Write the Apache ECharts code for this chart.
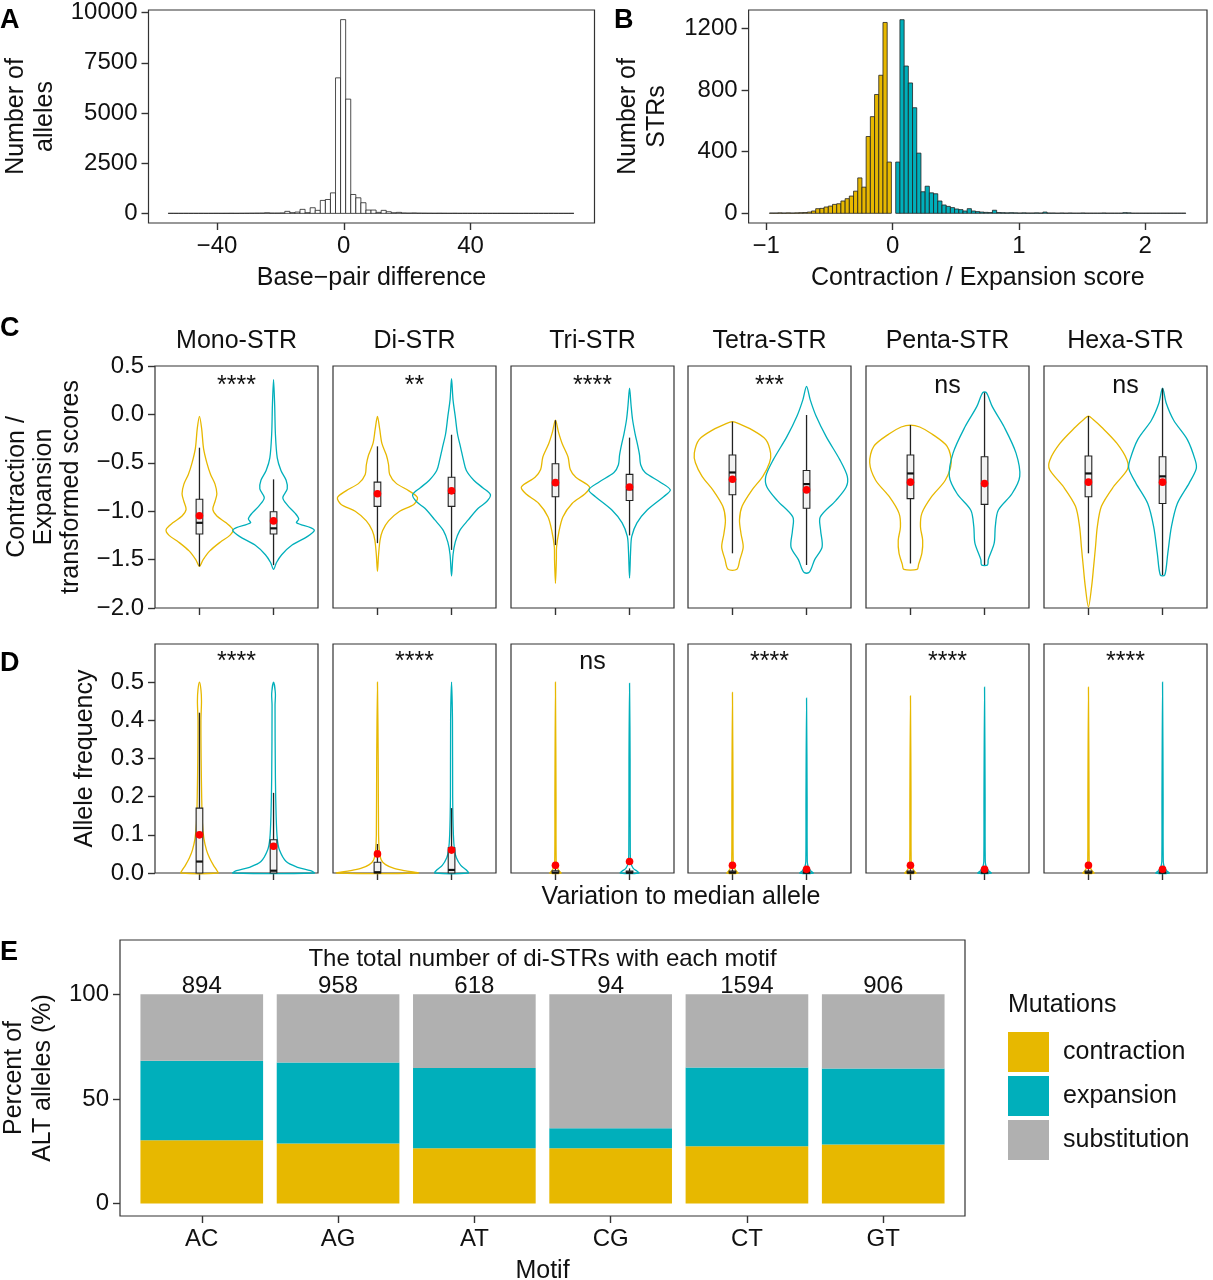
<!DOCTYPE html>
<html><head><meta charset="utf-8">
<script src="https://cdn.jsdelivr.net/npm/echarts@6/dist/echarts.min.js"></script>
<style>html,body{margin:0;padding:0;background:#fff}#c{width:1213px;height:1280px}</style>
</head><body><div id="c"></div>
<script>
// ================= DATA =================
// Panel A : histogram of base-pair differences
const aBinStart = -55.4;
const aBinWidth = 1.6;
const aCounts = [3,2,2,3,2,2,3,2,3,4,3,4,5,4,6,8,10,12,15,
  30,15,15,20,100,33,65,200,33,280,150,645,690,1020,6750,9650,5690,940,775,530,165,165,50,150,80,30,50,20,15,
  20,12,10,8,6,8,5,4,5,3,4,3,3,2,3,2,2,3,2,2,2,1,2,1,2,1,1,2,1,1,1,2];
const aXTicks = [-40, 0, 40];
const aYTicks = [0, 2500, 5000, 7500, 10000];

// Panel B : histogram of contraction / expansion score
const bBinWidth = 0.0333;
const bContractionStart = -0.975;
const bContractionCounts = [2,2,3,2,3,2,3,4,5,8,15,30,32,41,47,58,62,80,95,112,144,230,170,499,628,772,897,1240,333];
const bExpansionStart = 0.025;
const bExpansionCounts = [333,1258,957,847,686,391,140,176,133,127,80,54,45,37,28,24,15,30,15,11,8,
  6,5,20,5,4,3,4,3,2,3,2,2,3,2,8,2,2,1,2,1,2,1,1,2,1,1,1,1,2,1,1,1,1,4,3,1,1,1,1,1,1,1,1,1,1,1,1,1];
const bXTicks = [-1, 0, 1, 2];
const bYTicks = [0, 400, 800, 1200];

// Panels C & D : facets
const strTypes = ['Mono-STR','Di-STR','Tri-STR','Tetra-STR','Penta-STR','Hexa-STR'];
const sigC = ['****','**','****','***','ns','ns'];
const sigD = ['****','****','ns','****','****','****'];
const cYTicks = [-2.0, -1.5, -1.0, -0.5, 0.0, 0.5];
const dYTicks = [0.0, 0.1, 0.2, 0.3, 0.4, 0.5];

// violin outlines: [value, relative half-width]
const vioC_contraction = [
  [[-0.02,0],[-0.15,0.06],[-0.35,0.11],[-0.5,0.2],[-0.62,0.3],[-0.72,0.42],[-0.82,0.47],[-0.9,0.42],[-0.98,0.36],[-1.05,0.47],[-1.12,0.72],[-1.19,0.9],[-1.25,0.82],[-1.32,0.56],[-1.41,0.28],[-1.5,0.1],[-1.57,0]],
  [[-0.02,0],[-0.15,0.06],[-0.3,0.12],[-0.42,0.24],[-0.52,0.3],[-0.62,0.33],[-0.71,0.5],[-0.79,0.85],[-0.86,1.08],[-0.93,0.98],[-1.0,0.6],[-1.1,0.3],[-1.2,0.14],[-1.3,0.07],[-1.45,0.03],[-1.62,0]],
  [[-0.06,0],[-0.18,0.08],[-0.3,0.18],[-0.44,0.34],[-0.57,0.4],[-0.65,0.55],[-0.75,0.92],[-0.82,0.8],[-0.92,0.45],[-1.06,0.2],[-1.22,0.09],[-1.37,0.03],[-1.5,0.025],[-1.745,0]],
  [[-0.075,0],[-0.1,0.2],[-0.16,0.53],[-0.26,0.9],[-0.4,1.03],[-0.5,1.0],[-0.64,0.82],[-0.78,0.53],[-0.95,0.26],[-1.09,0.19],[-1.23,0.23],[-1.37,0.29],[-1.5,0.2],[-1.6,0.12]],
  [[-0.11,0],[-0.13,0.25],[-0.2,0.57],[-0.33,0.99],[-0.5,1.1],[-0.68,0.94],[-0.85,0.57],[-1.02,0.31],[-1.16,0.27],[-1.3,0.33],[-1.43,0.31],[-1.55,0.22],[-1.6,0.18]],
  [[-0.017,0],[-0.05,0.12],[-0.13,0.35],[-0.3,0.77],[-0.47,1.04],[-0.57,1.05],[-0.75,0.67],[-0.95,0.35],[-1.16,0.24],[-1.37,0.19],[-1.57,0.14],[-1.78,0.085],[-1.99,0]]
];
const vioC_expansion = [
  [[0.36,0],[0.1,0.03],[-0.2,0.05],[-0.45,0.1],[-0.58,0.2],[-0.68,0.34],[-0.77,0.37],[-0.86,0.25],[-0.94,0.38],[-1.02,0.58],[-1.08,0.68],[-1.12,0.62],[-1.17,1.0],[-1.2,1.1],[-1.26,0.92],[-1.35,0.5],[-1.45,0.22],[-1.53,0.08],[-1.6,0]],
  [[0.37,0],[0.15,0.04],[-0.02,0.1],[-0.2,0.16],[-0.35,0.25],[-0.47,0.32],[-0.58,0.4],[-0.68,0.6],[-0.76,0.85],[-0.83,1.05],[-0.9,0.95],[-0.97,0.72],[-1.09,0.45],[-1.2,0.22],[-1.32,0.1],[-1.45,0.04],[-1.67,0]],
  [[0.27,0],[0.1,0.04],[-0.05,0.08],[-0.2,0.15],[-0.32,0.22],[-0.42,0.27],[-0.52,0.3],[-0.6,0.42],[-0.7,0.83],[-0.78,1.1],[-0.85,0.92],[-0.99,0.47],[-1.12,0.2],[-1.26,0.06],[-1.4,0.03],[-1.69,0]],
  [[0.29,0],[0.15,0.1],[-0.02,0.26],[-0.23,0.53],[-0.47,0.9],[-0.64,1.1],[-0.75,1.07],[-0.89,0.79],[-1.06,0.37],[-1.2,0.38],[-1.37,0.42],[-1.5,0.22],[-1.6,0.12],[-1.635,0.06]],
  [[0.225,0.05],[0.08,0.21],[-0.13,0.53],[-0.4,0.85],[-0.64,0.95],[-0.82,0.74],[-0.99,0.37],[-1.16,0.29],[-1.33,0.26],[-1.5,0.1],[-1.556,0.08]],
  [[0.27,0],[0.115,0.1],[-0.06,0.3],[-0.26,0.67],[-0.47,0.88],[-0.56,0.91],[-0.71,0.72],[-0.92,0.4],[-1.16,0.24],[-1.44,0.14],[-1.66,0.06]]
];
// box stats: [lower whisker, Q1, median, Q3, upper whisker]
const boxC_contraction = [[-1.57,-1.236,-1.12,-0.877,-0.344],[-1.33,-0.95,-0.83,-0.70,-0.33],[-1.35,-0.85,-0.72,-0.51,-0.06],[-1.435,-0.83,-0.60,-0.42,-0.075],[-1.54,-0.87,-0.61,-0.42,-0.11],[-1.435,-0.85,-0.61,-0.43,-0.017]];
const boxC_expansion = [[-1.557,-1.236,-1.177,-1.005,-0.671],[-1.40,-0.95,-0.81,-0.65,-0.21],[-1.25,-0.89,-0.774,-0.62,-0.24],[-1.556,-0.97,-0.72,-0.58,-0.006],[-1.556,-0.93,-0.71,-0.437,0.225],[-1.66,-0.92,-0.64,-0.437,0.27]];
const meanC_contraction = [-1.047,-0.82,-0.705,-0.67,-0.70,-0.70];
const meanC_expansion = [-1.10,-0.79,-0.75,-0.78,-0.715,-0.70];

const vioD_contraction = [
  [[0.5,0],[0.48,0.04],[0.45,0.055],[0.4,0.04],[0.3,0.045],[0.2,0.06],[0.13,0.08],[0.09,0.12],[0.06,0.19],[0.04,0.27],[0.02,0.38],[0.008,0.46],[0,0.5]],
  [[0.5,0],[0.3,0.02],[0.1,0.03],[0.06,0.05],[0.035,0.1],[0.022,0.22],[0.012,0.45],[0.005,0.8],[0,1.1]],
  [[0.5,0],[0.2,0.015],[0.03,0.02],[0.015,0.05],[0.005,0.1],[0,0.15]],
  [[0.473,0],[0.2,0.015],[0.03,0.02],[0.015,0.05],[0.005,0.1],[0,0.15]],
  [[0.464,0],[0.2,0.015],[0.03,0.02],[0.015,0.05],[0.005,0.1],[0,0.15]],
  [[0.487,0],[0.2,0.015],[0.03,0.02],[0.015,0.05],[0.005,0.1],[0,0.15]]
];
const vioD_expansion = [
  [[0.5,0],[0.47,0.05],[0.44,0.04],[0.25,0.05],[0.15,0.07],[0.09,0.1],[0.06,0.16],[0.03,0.34],[0.015,0.65],[0.006,1.0],[0,1.1]],
  [[0.5,0],[0.4,0.025],[0.2,0.03],[0.1,0.05],[0.06,0.08],[0.04,0.13],[0.02,0.25],[0.008,0.4],[0,0.45]],
  [[0.497,0],[0.3,0.015],[0.05,0.02],[0.025,0.04],[0.012,0.1],[0.005,0.2],[0,0.25]],
  [[0.458,0],[0.2,0.015],[0.03,0.02],[0.015,0.05],[0.005,0.12],[0,0.18]],
  [[0.487,0],[0.2,0.015],[0.03,0.02],[0.015,0.05],[0.005,0.12],[0,0.18]],
  [[0.5,0],[0.2,0.015],[0.03,0.02],[0.015,0.05],[0.005,0.12],[0,0.18]]
];
const boxD_contraction = [[0,0,0.03,0.17,0.42],[0,0,0.002,0.028,0.076],[0,0,0.001,0.006,0.012],[0,0,0.001,0.005,0.01],[0,0,0.001,0.005,0.01],[0,0,0.001,0.005,0.01]];
const boxD_expansion = [[0,0,0.006,0.087,0.21],[0,0,0.008,0.066,0.17],[0,0,0.001,0.005,0.012],[0,0,0.001,0.004,0.01],[0,0,0.001,0.004,0.01],[0,0,0.001,0.004,0.01]];
const meanD_contraction = [0.10,0.05,0.02,0.02,0.02,0.02];
const meanD_expansion = [0.07,0.06,0.03,0.01,0.01,0.01];

// Panel E : stacked percentages per motif
const motifs = ['AC','AG','AT','CG','CT','GT'];
const motifTotals = [894, 958, 618, 94, 1594, 906];
const pctContraction = [30.2, 28.7, 26.4, 26.4, 27.4, 28.2];
const pctExpansion = [38.1, 38.7, 38.4, 9.6, 37.6, 36.3];
const pctSubstitution = [31.7, 32.6, 35.2, 64.0, 35.0, 35.5];
const eYTicks = [0, 50, 100];
const mutationNames = ['contraction','expansion','substitution'];

// ================= STYLE / LAYOUT =================
const FONT = '"Liberation Sans", Arial, Helvetica, sans-serif';
const INK = '#111111', BORDER = '#333333';
const GOLD = '#E7B800', TEAL = '#00AFBB', GREY = '#B0B0B0';
const TICK = 24, TITLE = 25;
const panelLeft = [155, 333, 511, 688, 866, 1044];
const panelW = 163;
const VW = 0.5;   // category units for relative width 1
const BW = 0.045; // half box width

const minus = s => s.replace('-', '\u2212');
const fmtInt = v => minus(String(Math.round(v)));
const fmt1 = v => minus(v.toFixed(1));

function grid(left, top, width, height) {
  return {left, top, width, height, show:true, borderColor:BORDER, borderWidth:1.2,
    backgroundColor:'transparent', containLabel:false, outerBoundsMode:'none'};
}
function axis(gi, min, max, ticks, fmt, extra) {
  const o = {
    type:'value', gridIndex:gi, min, max,
    splitLine:{show:false},
    axisLine:{show:false, onZero:false},
    axisTick:{show:ticks.length>0, length:7, lineStyle:{color:BORDER, width:1.4}, customValues:ticks},
    axisLabel:{show:!!fmt, customValues:ticks, formatter:fmt, color:INK, fontSize:TICK, fontFamily:FONT, margin:11},
    axisPointer:{show:false}
  };
  return Object.assign(o, extra || {});
}
const nameStyle = {fontSize:TITLE, color:INK, fontFamily:FONT, lineHeight:29};

const grids = [], xAxes = [], yAxes = [], series = [];

// ---- A ----
grids.push(grid(148.5, 10, 446, 213));
xAxes.push(axis(0, -61.6, 79.1, aXTicks, fmtInt, {name:'Base\u2212pair difference', nameLocation:'middle', nameGap:41, nameTextStyle:nameStyle}));
yAxes.push(axis(0, -480, 10130, aYTicks, fmtInt, {name:'Number of\nalleles', nameLocation:'middle', nameGap:89, nameTextStyle:nameStyle}));
function histRender(fill) {
  return (params, api) => {
    const p0 = api.coord([api.value(0), api.value(2)]);
    const p1 = api.coord([api.value(1), 0]);
    return {type:'rect', shape:{x:p0[0], y:p0[1], width:p1[0]-p0[0], height:p1[1]-p0[1]},
      style:{fill, stroke:'#222', lineWidth:0.8}};
  };
}
series.push({type:'custom', xAxisIndex:0, yAxisIndex:0, silent:true, encode:{x:[0,1], y:2},
  data: aCounts.map((c,i) => [aBinStart + i*aBinWidth, aBinStart + (i+1)*aBinWidth, c]),
  renderItem: histRender('#ffffff')});

// ---- B ----
grids.push(grid(748.6, 10, 458.4, 213));
xAxes.push(axis(1, -1.14, 2.49, bXTicks, fmtInt, {name:'Contraction / Expansion score', nameLocation:'middle', nameGap:41, nameTextStyle:nameStyle}));
yAxes.push(axis(1, -63, 1321, bYTicks, fmtInt, {name:'Number of\nSTRs', nameLocation:'middle', nameGap:77, nameTextStyle:nameStyle}));
series.push({type:'custom', xAxisIndex:1, yAxisIndex:1, silent:true, encode:{x:[0,1], y:2},
  data: bContractionCounts.map((c,i) => [bContractionStart + i*bBinWidth, bContractionStart + (i+1)*bBinWidth, c]),
  renderItem: histRender(GOLD)});
series.push({type:'custom', xAxisIndex:1, yAxisIndex:1, silent:true, encode:{x:[0,1], y:2},
  data: bExpansionCounts.map((c,i) => [bExpansionStart + i*bBinWidth, bExpansionStart + (i+1)*bBinWidth, c]),
  renderItem: histRender(TEAL)});

// ---- C & D violins ----
function violinSeries(gi, profiles, boxes, means) {
  return {
    type:'custom', xAxisIndex:gi, yAxisIndex:gi, silent:true, clip:false,
    data:[[1, boxes[0][2]], [2, boxes[1][2]]],
    renderItem:(params, api) => {
      const i = params.dataIndex, x = api.value(0);
      const color = i === 0 ? GOLD : TEAL;
      const prof = profiles[i];
      const pts = [];
      prof.forEach(([v,w]) => pts.push(api.coord([x + w*VW, v])));
      for (let j = prof.length-1; j >= 0; j--) {
        const [v,w] = prof[j];
        if (w > 0) pts.push(api.coord([x - w*VW, v]));
      }
      const [lo,q1,md,q3,hi] = boxes[i];
      const pLo = api.coord([x, lo]), pHi = api.coord([x, hi]);
      const b0 = api.coord([x - BW, q3]), b1 = api.coord([x + BW, q1]);
      const m0 = api.coord([x - BW, md]), m1 = api.coord([x + BW, md]);
      const pm = api.coord([x, means[i]]);
      return {type:'group', children:[
        {type:'polygon', shape:{points:pts, smooth:0.3}, style:{fill:'none', stroke:color, lineWidth:1.3}},
        {type:'line', shape:{x1:pLo[0], y1:pLo[1], x2:pHi[0], y2:pHi[1]}, style:{stroke:'#222', lineWidth:1.3}},
        {type:'rect', shape:{x:b0[0], y:b0[1], width:b1[0]-b0[0], height:Math.max(b1[1]-b0[1], 1)}, style:{fill:'#f2f2f2', stroke:'#222', lineWidth:1.1}},
        {type:'line', shape:{x1:m0[0], y1:m0[1], x2:m1[0], y2:m1[1]}, style:{stroke:'#111', lineWidth:2.2}},
        {type:'circle', shape:{cx:pm[0], cy:pm[1], r:3.8}, style:{fill:'#FF0000'}}
      ]};
    }
  };
}
for (let k = 0; k < 6; k++) {
  const gi = 2 + k;
  grids.push(grid(panelLeft[k], 366, panelW, 242));
  xAxes.push(axis(gi, 0.4, 2.6, [1,2], null));
  yAxes.push(k === 0
    ? axis(gi, -2.0, 0.5, cYTicks, fmt1, {name:'Contraction /\nExpansion\ntransformed scores', nameLocation:'middle', nameGap:70, nameTextStyle:Object.assign({}, nameStyle, {lineHeight:27})})
    : axis(gi, -2.0, 0.5, [], null));
  series.push(violinSeries(gi, [vioC_contraction[k], vioC_expansion[k]], [boxC_contraction[k], boxC_expansion[k]], [meanC_contraction[k], meanC_expansion[k]]));
}
for (let k = 0; k < 6; k++) {
  const gi = 8 + k;
  grids.push(grid(panelLeft[k], 644, panelW, 229));
  xAxes.push(axis(gi, 0.4, 2.6, [1,2], null));
  yAxes.push(k === 0
    ? axis(gi, 0, 0.6, dYTicks, fmt1, {name:'Allele frequency', nameLocation:'middle', nameGap:55, nameTextStyle:nameStyle})
    : axis(gi, 0, 0.6, [], null));
  series.push(violinSeries(gi, [vioD_contraction[k], vioD_expansion[k]], [boxD_contraction[k], boxD_expansion[k]], [meanD_contraction[k], meanD_expansion[k]]));
}

// ---- E ----
const eGi = 14;
grids.push(grid(120, 940, 845, 276));
xAxes.push(axis(eGi, 0.4, 6.6, [1,2,3,4,5,6], v => motifs[Math.round(v)-1], {name:'Motif', nameLocation:'middle', nameGap:41, nameTextStyle:nameStyle}));
yAxes.push(axis(eGi, -6, 126, eYTicks, fmtInt, {name:'Percent of\nALT alleles (%)', nameLocation:'middle', nameGap:61, nameTextStyle:nameStyle}));
const layers = [pctContraction, pctExpansion, pctSubstitution];
const layerColors = [GOLD, TEAL, GREY];
layers.forEach((arr, li) => {
  series.push({
    type:'custom', name:mutationNames[li], xAxisIndex:eGi, yAxisIndex:eGi, silent:true,
    itemStyle:{color:layerColors[li]}, encode:{x:0, y:[1,2]},
    data: motifs.map((m, i) => {
      let base = 0;
      for (let l = 0; l < li; l++) base += layers[l][i];
      return [i+1, base, base + arr[i]];
    }),
    renderItem:(params, api) => {
      const x = api.value(0);
      const p0 = api.coord([x - 0.45, api.value(2)]);
      const p1 = api.coord([x + 0.45, api.value(1)]);
      return {type:'rect', shape:{x:p0[0], y:p0[1], width:p1[0]-p0[0], height:p1[1]-p0[1]},
        style:{fill:layerColors[li]}};
    }
  });
});
series.push({
  type:'custom', xAxisIndex:eGi, yAxisIndex:eGi, silent:true, clip:false,
  data: motifs.map((m, i) => [i+1, pctContraction[i]+pctExpansion[i]+pctSubstitution[i], motifTotals[i]]),
  renderItem:(params, api) => {
    const c = api.coord([api.value(0), api.value(1)]);
    return {type:'text', x:c[0], y:c[1]+4, style:{text:String(api.value(2)), align:'center', verticalAlign:'bottom', fontSize:TICK, fontFamily:FONT, fill:INK}};
  }
});

// ---- texts ----
const texts = [];
function T(text, x, y, opt) {
  texts.push({type:'text', x, y, silent:true, z:100,
    style:Object.assign({text, fontSize:TITLE, fontFamily:FONT, fill:INK, align:'center', verticalAlign:'middle'}, opt || {})});
}
const letter = {align:'left', fontWeight:'bold', fontSize:27, fill:'#000'};
T('A', 0, 21, letter); T('B', 614, 21, letter); T('C', 0, 329, letter); T('D', 0, 664, letter); T('E', 0, 953, letter);
for (let k = 0; k < 6; k++) {
  const cx = panelLeft[k] + panelW/2;
  T(strTypes[k], cx, 341);
  T(sigC[k], cx, 386);
  T(sigD[k], cx, 662);
}
T('Variation to median allele', panelLeft[0] + (panelLeft[5] + panelW - panelLeft[0])/2, 897);
T('The total number of di-STRs with each motif', 120 + 845*3.1/6.2, 959, {fontSize:TICK});
T('Mutations', 1008, 1005, {align:'left'});

const option = {
  animation:false, backgroundColor:'#ffffff',
  textStyle:{fontFamily:FONT},
  grid:grids, xAxis:xAxes, yAxis:yAxes, series,
  legend:{data:mutationNames, orient:'vertical', left:1008, top:1032, itemWidth:41, itemHeight:40, itemGap:4,
    icon:'rect', selectedMode:false, padding:0,
    textStyle:{fontSize:TITLE, color:INK, fontFamily:FONT, padding:[0,0,0,9]}},
  graphic:{elements:texts}
};
const chart = echarts.init(document.getElementById('c'), null, {renderer:'canvas', width:1213, height:1280});
chart.setOption(option);
</script>
</body></html>
